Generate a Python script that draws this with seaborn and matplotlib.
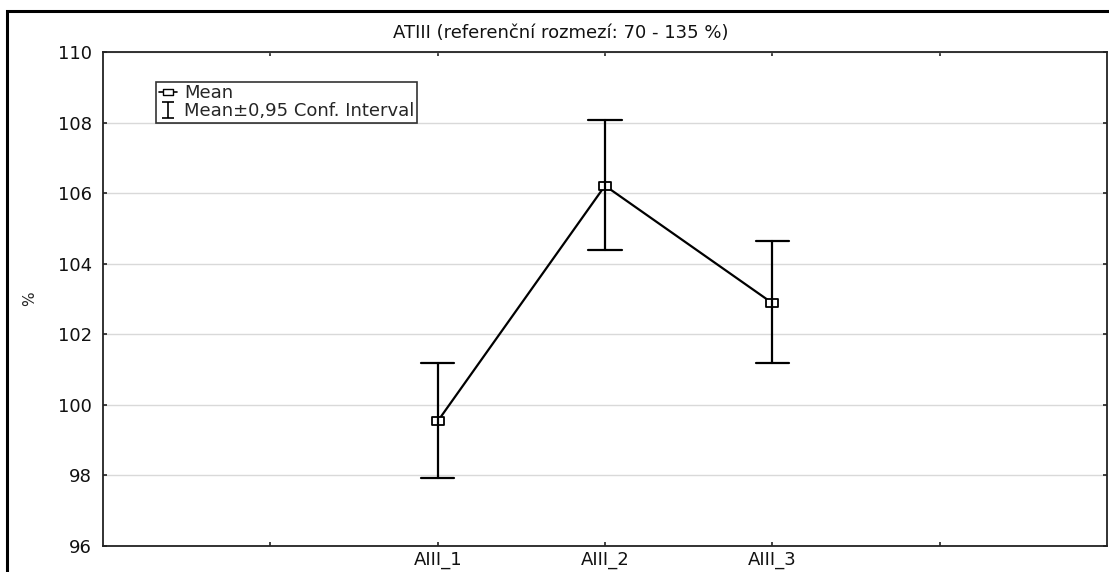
import matplotlib
matplotlib.use("Agg")
import matplotlib.pyplot as plt
from matplotlib.lines import Line2D
from matplotlib.patches import Rectangle
from matplotlib.path import Path
import numpy as np
import pandas as pd
import seaborn as sns

# Group labels and summary statistics (mean with 95 % confidence limits)
groups = ["AIII_1", "AIII_2", "AIII_3"]
means = [99.53, 106.21, 102.88]
ci_lower = [97.93, 104.38, 101.17]
ci_upper = [101.17, 108.06, 104.64]

y_ticks = [96, 98, 100, 102, 104, 106, 108, 110]
title = "ATIII (referenční rozmezí: 70 - 135 %)"
y_label = "%"

sns.set_theme(style="white")
plt.rcParams["font.family"] = ["DejaVu Sans"]
FS = 13

# long table: lower limit, mean and upper limit per group; the median is the mean
# and the full range is the confidence interval
rows = []
for g, lo, m, hi in zip(groups, ci_lower, means, ci_upper):
    for v in (lo, m, hi):
        rows.append({"group": g, "value": v})
df = pd.DataFrame(rows)

# a slightly wide rectangle used as the point marker
box = Path([(-0.5, -0.36), (0.5, -0.36), (0.5, 0.36), (-0.5, 0.36), (-0.5, -0.36)],
           [Path.MOVETO, Path.LINETO, Path.LINETO, Path.LINETO, Path.CLOSEPOLY])

fig = plt.figure(figsize=(11.09, 5.72), dpi=100)
ax = fig.add_axes([0.0929, 0.046, 0.9053, 0.863])

sns.pointplot(
    data=df, x="group", y="value", order=groups,
    estimator="median", errorbar=("pi", 100),
    color="black", markers=box, markersize=8, markerfacecolor="white",
    markeredgewidth=1.3, linewidth=1.6, capsize=0.2,
    err_kws={"linewidth": 1.6}, ax=ax, zorder=3,
)

ax.set_xlim(-2, 4)
ax.set_ylim(96, 110)
ax.set_yticks(y_ticks)
ax.set_xticks([-1, 0, 1, 2, 3])
ax.set_xticklabels(["", *groups, ""])
ax.set_xlabel("")
ax.set_ylabel(y_label, fontsize=FS - 2)
ax.yaxis.set_label_coords(-0.066, 0.5)

ax.grid(axis="y", color="#d9d9d9", linewidth=1)
ax.grid(axis="x", visible=False)
ax.set_axisbelow(True)
for s in ax.spines.values():
    s.set_color("#222222")
    s.set_linewidth(1.3)
    s.set_visible(True)
ax.tick_params(direction="in", length=3, width=1.2, color="#222222",
               top=True, right=True, bottom=True, left=True,
               labelsize=FS, labelcolor="#111111", pad=8)
ax.tick_params(axis="x", pad=4)

# legend with a mean marker and an error-bar glyph
ibeam = Path([(-0.6, 0.9), (0.6, 0.9), (0, 0.9), (0, -0.9), (-0.6, -0.9), (0.6, -0.9)],
             [Path.MOVETO, Path.LINETO, Path.MOVETO, Path.LINETO, Path.MOVETO, Path.LINETO])
h_mean = Line2D([], [], color="black", linewidth=1.2, marker=box, markersize=7,
                markerfacecolor="white", markeredgecolor="black")
h_ci = Line2D([], [], color="black", linestyle="none", marker=ibeam, markersize=12,
              markeredgewidth=1.2, markerfacecolor="none", markeredgecolor="black")
leg = ax.legend([h_mean, h_ci], ["Mean", "Mean±0,95 Conf. Interval"],
                loc="upper left", bbox_to_anchor=(0.053, 0.94),
                fontsize=FS, frameon=True, fancybox=False, handlelength=1.0,
                handletextpad=0.4, borderpad=0.15, labelspacing=0.0,
                borderaxespad=0)
leg.get_frame().set_edgecolor("black")
leg.get_frame().set_linewidth(1.2)

fig.text(561 / 1109, 1 - 33 / 572, title, ha="center", va="center",
         fontsize=FS, color="#111111")

# outer frame of the figure
fig.add_artist(Rectangle((6.5 / 1109, -0.1), 1.2, 1.1 - 10.5 / 572,
                         transform=fig.transFigure, fill=False,
                         edgecolor="black", linewidth=2.2))

fig.savefig("out.png", dpi=100, facecolor="white")
